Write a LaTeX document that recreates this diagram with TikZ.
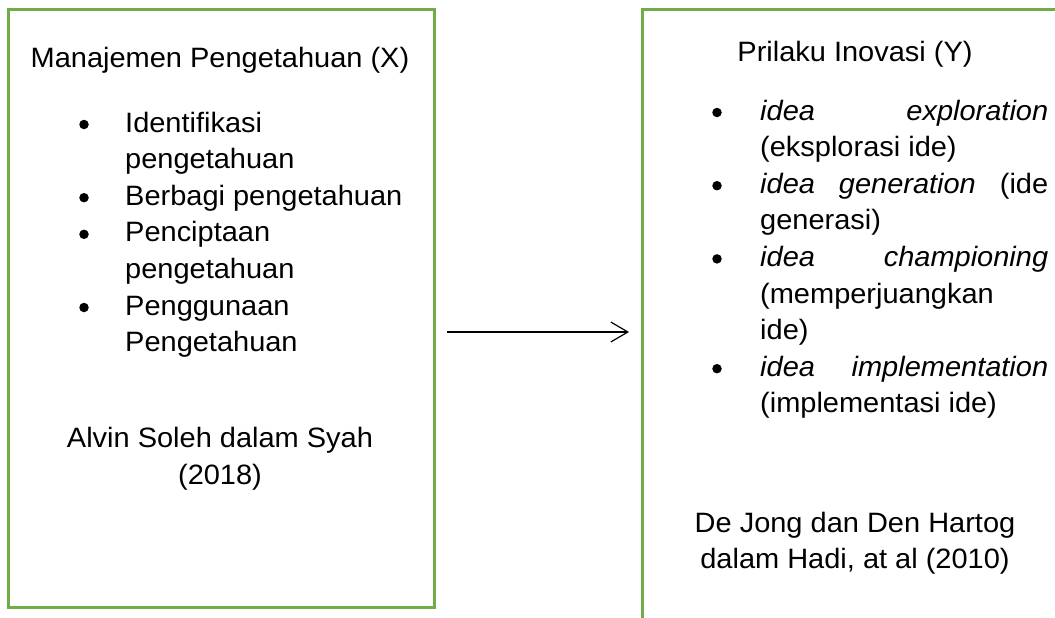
\documentclass[tikz,border=0pt]{standalone}
\usepackage{fontspec}
\setmainfont{Liberation Sans}[FakeStretch=1.035]
\usepackage{xcolor}
\usetikzlibrary{arrows.meta,positioning}
\definecolor{boxgreen}{RGB}{112, 173, 71}

\begin{document}
\begin{tikzpicture}[x=1pt, y=-1pt,
  greenbox/.style={rectangle, draw=boxgreen, line width=3pt, inner sep=0pt},
  bodytext/.style={font=\fontsize{28}{30}\selectfont, inner sep=0pt, text=black},
  linel/.style={bodytext, anchor=base west},
  linec/.style={bodytext, anchor=base},
  bulletdot/.style={circle, fill=black, inner sep=0pt, minimum size=9.5pt},
  flowarrow/.style={-{Straight Barb[length=17pt,width=20pt]}, line width=1.2pt, color=black}
]
\useasboundingbox (0, 0) rectangle (1055, 618);
\clip (0, 0) rectangle (1055, 618);

% Two Frames (the right one runs past the page edge)
\node[greenbox, minimum width=426pt, minimum height=597pt] (boxX) at (221, 308.5) {};
\node[greenbox, minimum width=440pt, minimum height=640pt] (boxY) at (862, 330) {};

% Left Frame: Variable X
\node[linec] (ttlX) at (220, 68) {Manajemen Pengetahuan (X)};
\node[bulletdot] (bx1) at (84, 124.5) {};
\node[linel] (x1a) at (125, 132) {Identifikasi};
\node[linel] (x1b) at (125, 168.6) {pengetahuan};
\node[bulletdot] (bx2) at (84, 197.7) {};
\node[linel] (x2a) at (125, 205.2) {Berbagi pengetahuan};
\node[bulletdot] (bx3) at (84, 234.3) {};
\node[linel] (x3a) at (125, 241.8) {Penciptaan};
\node[linel] (x3b) at (125, 278.4) {pengetahuan};
\node[bulletdot] (bx4) at (84, 307.5) {};
\node[linel] (x4a) at (125, 315) {Penggunaan};
\node[linel] (x4b) at (125, 351.6) {Pengetahuan};
\node[linec] (srcXa) at (220, 447) {Alvin Soleh dalam Syah};
\node[linec] (srcXb) at (220, 484) {(2018)};

% Right Frame: Variable Y
\node[linec] (ttlY) at (855, 62) {Prilaku Inovasi (Y)};
\node[bulletdot] (by1) at (717, 112.5) {};
\node[linel] (y1a) at (760, 120) {\makebox[288pt][s]{\textit{idea} \textit{exploration}}};
\node[linel] (y1b) at (760, 156.6) {(eksplorasi ide)};
\node[bulletdot] (by2) at (717, 185.7) {};
\node[linel] (y2a) at (760, 193.2) {\makebox[288pt][s]{\textit{idea} \textit{generation} (ide}};
\node[linel] (y2b) at (760, 229.8) {generasi)};
\node[bulletdot] (by3) at (717, 258.9) {};
\node[linel] (y3a) at (760, 266.4) {\makebox[288pt][s]{\textit{idea} \textit{championing}}};
\node[linel] (y3b) at (760, 303) {(memperjuangkan};
\node[linel] (y3c) at (760, 339.6) {ide)};
\node[bulletdot] (by4) at (717, 368.7) {};
\node[linel] (y4a) at (760, 376.2) {\makebox[288pt][s]{\textit{idea} \textit{implementation}}};
\node[linel] (y4b) at (760, 412.8) {(implementasi ide)};
\node[linec] (srcYa) at (855, 532) {De Jong dan Den Hartog};
\node[linec] (srcYb) at (855, 568) {dalam Hadi, at al (2010)};

% Link X -> Y
\coordinate (arrS) at (447, 332);
\coordinate (arrE) at (629, 332);
\draw[flowarrow] (arrS) -- (arrE);

\end{tikzpicture}
\end{document}
